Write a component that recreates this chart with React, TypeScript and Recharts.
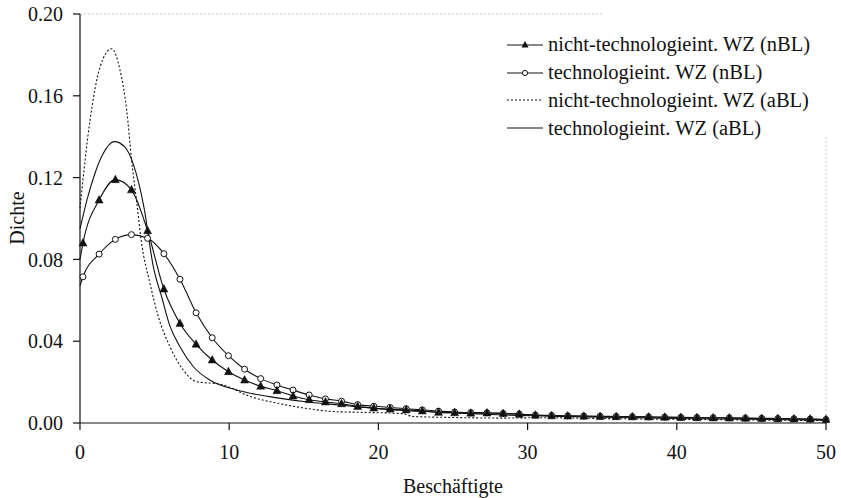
import React from "react";
import { LineChart, Line, XAxis, YAxis, Label, ReferenceLine } from "recharts";

const FONT = '"Liberation Serif", "Times New Roman", serif';
const INK = "#111";

// x positions of the marked curves (first point sits on the axis, no marker)
const markX = [
  0, 0.2, 1.28, 2.37, 3.45, 4.53, 5.62, 6.7, 7.78, 8.86, 9.95, 11.03, 12.11, 13.2, 14.28, 15.36,
  16.45, 17.53, 18.61, 19.69, 20.78, 21.86, 22.94, 24.03, 25.11, 26.19, 27.28, 28.36, 29.44,
  30.52, 31.61, 32.69, 33.77, 34.86, 35.94, 37.02, 38.11, 39.19, 40.27, 41.35, 42.44, 43.52,
  44.6, 45.69, 46.77, 47.85, 48.94, 50,
];

// nicht-technologieint. WZ (nBL)
const nichtTechNbl = [
  0.08, 0.088, 0.109, 0.119, 0.114, 0.094, 0.0655, 0.0487, 0.0385, 0.0308, 0.0251, 0.021, 0.018,
  0.0158, 0.0132, 0.0114, 0.0103, 0.0094, 0.0081, 0.0073, 0.0068, 0.0064, 0.0059, 0.0052, 0.005,
  0.0048, 0.0049, 0.0046, 0.0043, 0.0038, 0.0035, 0.0034, 0.0033, 0.0032, 0.0031, 0.003, 0.0029,
  0.0028, 0.0027, 0.0026, 0.0025, 0.0024, 0.0023, 0.0022, 0.0021, 0.002, 0.0019, 0.0017,
];

// technologieint. WZ (nBL)
const techNbl = [
  0.067, 0.0715, 0.0826, 0.0898, 0.0921, 0.0903, 0.0828, 0.0703, 0.0539, 0.0417, 0.0329, 0.0263,
  0.0217, 0.0186, 0.0161, 0.0137, 0.0118, 0.0107, 0.009, 0.0082, 0.0076, 0.007, 0.0064, 0.0058,
  0.0054, 0.0051, 0.005, 0.0047, 0.0044, 0.0039, 0.0037, 0.0035, 0.0034, 0.0033, 0.0032, 0.0031,
  0.003, 0.0029, 0.0028, 0.0027, 0.0026, 0.0025, 0.0024, 0.0023, 0.0022, 0.0021, 0.0019, 0.0017,
];

// nicht-technologieint. WZ (aBL), dotted curve
const nichtTechAblX = [
  0, 0.67, 1.34, 2.12, 2.68, 3.13, 3.46, 3.8, 4.13, 4.69, 5.25, 6.03, 6.92, 7.81, 9.4, 11.4, 13.7,
  15.5, 17.0, 19.0, 21.6, 22.3, 25.0, 28.3, 31, 35, 40, 45, 50,
];
const nichtTechAbl = [
  0.105, 0.148, 0.174, 0.183, 0.1726, 0.153, 0.1286, 0.108, 0.0879, 0.0683, 0.052, 0.0373, 0.0259,
  0.0202, 0.019, 0.013, 0.009, 0.0068, 0.0056, 0.0052, 0.0046, 0.0032, 0.0027, 0.0024, 0.0026,
  0.0022, 0.0018, 0.0015, 0.0012,
];

// technologieint. WZ (aBL), plain solid curve
const techAblX = [
  0, 0.5, 1.0, 1.5, 2.3, 3.0, 3.6, 4.3, 4.9, 5.5, 6.0, 6.7, 7.6, 8.7, 10.5, 12.7, 15, 17.4, 21.4,
  24.8, 28, 31.5, 35, 40, 45, 50,
];
const techAbl = [
  0.095, 0.11, 0.122, 0.131, 0.1376, 0.135, 0.126, 0.105, 0.077, 0.061, 0.048, 0.0373, 0.0275,
  0.021, 0.0161, 0.0129, 0.0105, 0.0088, 0.0062, 0.005, 0.004, 0.0033, 0.0028, 0.0022, 0.0018,
  0.0014,
];

const xTicks = [0, 10, 20, 30, 40, 50];
const yTicks = [0, 0.04, 0.08, 0.12, 0.16, 0.2];

const legendLabels = [
  "nicht-technologieint. WZ (nBL)",
  "technologieint. WZ (nBL)",
  "nicht-technologieint. WZ (aBL)",
  "technologieint. WZ (aBL)",
];

const toRows = (xs: number[], ys: number[]) => xs.map((x, i) => ({ x, y: ys[i] }));

const TriangleDot = (props: any) => {
  const { cx, cy, index } = props;
  if (index === 0 || cx == null || cy == null) return <g key={`t-${index}`} />;
  return (
    <path
      key={`t-${index}`}
      d={`M${cx},${cy - 4.5} L${cx + 4},${cy + 3} L${cx - 4},${cy + 3} Z`}
      fill={INK}
      stroke={INK}
      strokeWidth={0.5}
    />
  );
};

const CircleDot = (props: any) => {
  const { cx, cy, index } = props;
  if (index === 0 || cx == null || cy == null) return <g key={`c-${index}`} />;
  return <circle key={`c-${index}`} cx={cx} cy={cy} r={3} fill="#fff" stroke={INK} strokeWidth={1} />;
};

function LegendBody() {
  const symbol = (i: number) => (
    <svg width={40} height={20} style={{ display: "block" }}>
      <line
        x1={2}
        y1={10}
        x2={38}
        y2={10}
        stroke={INK}
        strokeWidth={1}
        strokeDasharray={i === 2 ? "2 2" : undefined}
      />
      {i === 0 && <path d="M20,6 L23.5,12.5 L16.5,12.5 Z" fill={INK} />}
      {i === 1 && <circle cx={20} cy={10} r={2.6} fill="#fff" stroke={INK} />}
    </svg>
  );
  return (
    <div
      style={{
        position: "absolute",
        left: 505,
        top: 31,
        fontFamily: FONT,
        fontSize: 20.5,
        color: INK,
      }}
    >
      {legendLabels.map((label, i) => (
        <div key={label} style={{ display: "flex", alignItems: "center", height: 27.8 }}>
          {symbol(i)}
          <span style={{ marginLeft: 3, whiteSpace: "nowrap" }}>{label}</span>
        </div>
      ))}
    </div>
  );
}

export default function App() {
  const tickStyle = { fontSize: 20, fill: INK, fontFamily: FONT };
  return (
    <div style={{ position: "absolute", left: 0, top: 0, width: 841, height: 498, background: "#fff" }}>
      <LineChart width={841} height={498} margin={{ top: 14, right: 15, bottom: 0, left: 0 }}>
        <XAxis
          type="number"
          dataKey="x"
          domain={[0, 50]}
          ticks={xTicks}
          tick={tickStyle}
          tickSize={7}
          tickMargin={15}
          height={75}
          axisLine={{ stroke: INK, strokeWidth: 1.2 }}
          tickLine={{ stroke: INK, strokeWidth: 1.2 }}
          allowDuplicatedCategory={false}
        >
          <Label
            value="Beschäftigte"
            position="insideBottom"
            offset={5}
            style={{ fontSize: 20, fill: INK, fontFamily: FONT }}
          />
        </XAxis>
        <YAxis
          type="number"
          domain={[0, 0.2]}
          ticks={yTicks}
          tickFormatter={(v: number) => v.toFixed(2)}
          tick={tickStyle}
          tickSize={7}
          tickMargin={10}
          width={80}
          axisLine={{ stroke: INK, strokeWidth: 1.2 }}
          tickLine={{ stroke: INK, strokeWidth: 1.2 }}
        >
          <Label
            content={() => (
              <text
                x={17}
                y={218}
                transform="rotate(-90 17 218)"
                textAnchor="middle"
                dominantBaseline="central"
                style={{ fontSize: 20, fill: INK, fontFamily: FONT }}
              >
                Dichte
              </text>
            )}
          />
        </YAxis>
        <ReferenceLine
          segment={[
            { x: 0, y: 0.2 },
            { x: 35, y: 0.2 },
          ]}
          stroke="#c8c8c8"
          strokeDasharray="2 2"
        />
        <ReferenceLine
          segment={[
            { x: 50, y: 0 },
            { x: 50, y: 0.14 },
          ]}
          stroke="#c8c8c8"
          strokeDasharray="2 2"
        />
        <Line
          data={toRows(nichtTechAblX, nichtTechAbl)}
          dataKey="y"
          type="monotone"
          stroke={INK}
          strokeWidth={1.1}
          strokeDasharray="2 2"
          dot={false}
          isAnimationActive={false}
        />
        <Line
          data={toRows(techAblX, techAbl)}
          dataKey="y"
          type="monotone"
          stroke={INK}
          strokeWidth={1.1}
          dot={false}
          isAnimationActive={false}
        />
        <Line
          data={toRows(markX, techNbl)}
          dataKey="y"
          type="monotone"
          stroke={INK}
          strokeWidth={1.1}
          dot={CircleDot}
          isAnimationActive={false}
        />
        <Line
          data={toRows(markX, nichtTechNbl)}
          dataKey="y"
          type="monotone"
          stroke={INK}
          strokeWidth={1.1}
          dot={TriangleDot}
          isAnimationActive={false}
        />
      </LineChart>
      <LegendBody />
    </div>
  );
}
